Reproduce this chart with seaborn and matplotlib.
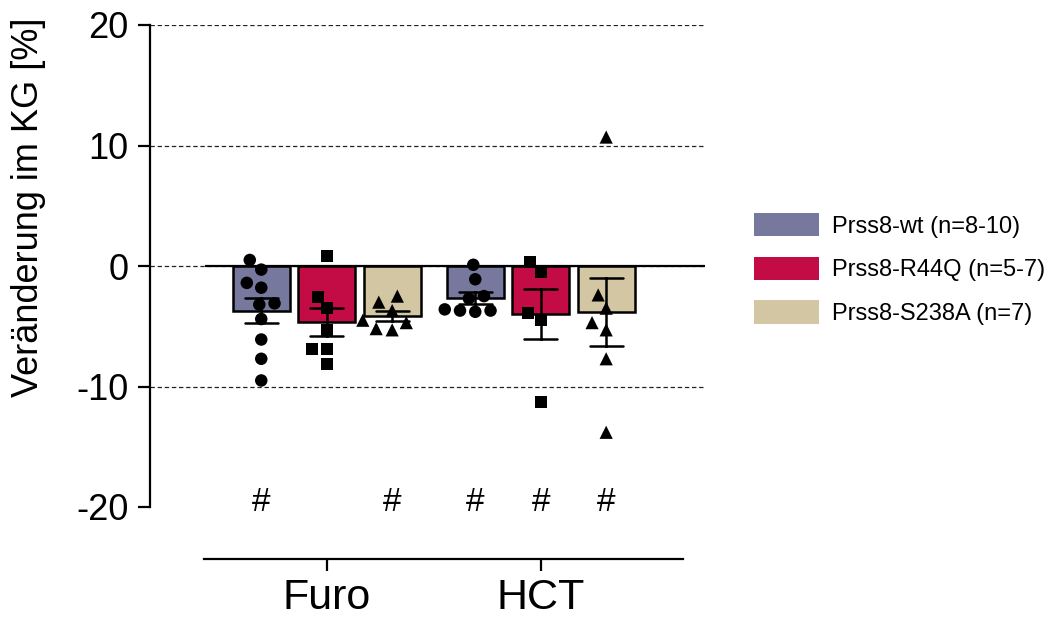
import matplotlib
matplotlib.use("Agg")
import matplotlib.pyplot as plt
from matplotlib.patches import Patch
import numpy as np
import pandas as pd
import seaborn as sns

# ---- data -------------------------------------------------------------
treatments = ["Furo", "HCT"]
genotypes = ["Prss8-wt", "Prss8-R44Q", "Prss8-S238A"]
legend_labels = ["Prss8-wt (n=8-10)", "Prss8-R44Q (n=5-7)", "Prss8-S238A (n=7)"]

# body-weight change [%] per animal
furo_wt = [0.5, -0.3, -1.4, -1.8, -3.1, -3.2, -4.4, -6.1, -7.7, -9.5]
furo_r44q = [0.8, -2.6, -3.5, -5.3, -6.9, -6.9, -8.1]
furo_s238a = [-2.5, -3.0, -3.7, -4.5, -4.7, -5.2, -5.3]
hct_wt = [0.1, -1.1, -2.5, -2.7, -3.6, -3.7, -3.7, -3.8]
hct_r44q = [0.3, -0.5, -3.9, -4.5, -11.3]
hct_s238a = [10.7, -2.4, -3.5, -4.7, -5.3, -7.7, -13.8]

# significance vs. baseline (#)
furo_sig = [True, False, True]
hct_sig = [True, True, True]

# ---- style ------------------------------------------------------------
colors = ["#76789E", "#C30C45", "#D3C6A2"]
markers = ["o", "s", "^"]
marker_sizes = [9, 8.5, 9.5]
group_step = 3.27      # distance between treatment groups, in bar units
bar_width = 0.87

sns.set_theme(style="ticks")
plt.rcParams["font.family"] = ["Liberation Sans", "DejaVu Sans"]
plt.rcParams["text.color"] = "black"
plt.rcParams["axes.labelcolor"] = "black"

values = {
    ("Furo", genotypes[0]): furo_wt,
    ("Furo", genotypes[1]): furo_r44q,
    ("Furo", genotypes[2]): furo_s238a,
    ("HCT", genotypes[0]): hct_wt,
    ("HCT", genotypes[1]): hct_r44q,
    ("HCT", genotypes[2]): hct_s238a,
}
sig = {"Furo": furo_sig, "HCT": hct_sig}

rows = []
for ti, t in enumerate(treatments):
    for gi, g in enumerate(genotypes):
        for v in values[(t, g)]:
            rows.append({"treatment": t, "genotype": g, "value": v,
                         "pos": ti * group_step + gi})
df = pd.DataFrame(rows)

fig = plt.figure(figsize=(10.57, 6.23), dpi=100)
ax = fig.add_axes([150 / 1057, 116 / 623, 555 / 1057, 482 / 623])

# dashed reference lines
for yv in [-10, 0, 10, 20]:
    ax.axhline(yv, color="#222222", linestyle=(0, (3.5, 2.2)),
               linewidth=0.9, zorder=0)

sns.barplot(data=df, x="pos", y="value", hue="genotype", hue_order=genotypes,
            palette=colors, saturation=1, native_scale=True, errorbar="se",
            width=bar_width, capsize=0.5, edgecolor="black", linewidth=1.8,
            err_kws={"color": "black", "linewidth": 1.8},
            legend=False, ax=ax, zorder=2)

# individual animals; an invisible edge widens the swarm spacing a little
for g, m, s in zip(genotypes, markers, marker_sizes):
    sub = df[df["genotype"] == g]
    sns.swarmplot(data=sub, x="pos", y="value", native_scale=True,
                  color="black", marker=m, size=s, edgecolor="none",
                  linewidth=1.5, ax=ax, zorder=4)

xmin, xmax = -1.70, 6.78
ax.hlines(0, -0.86, xmax, color="black", linewidth=1.6, zorder=3)

for ti, t in enumerate(treatments):
    for gi, flag in enumerate(sig[t]):
        if flag:
            ax.text(ti * group_step + gi, -19.6, "#", ha="center",
                    va="center", fontsize=24, color="black")

ax.set_xlim(xmin, xmax)
ax.set_ylim(-20, 20)
ax.set_yticks([-20, -10, 0, 10, 20])
ax.set_yticklabels(["-20", "-10", "0", "10", "20"])
ax.set_xticks([ti * group_step + 1 for ti in range(len(treatments))])
ax.set_xticklabels(treatments)
ax.set_xlabel("")
ax.set_ylabel("Veränderung im KG [%]", fontsize=26)
ax.yaxis.set_label_coords(-0.187, 0.622)

for side in ["top", "right"]:
    ax.spines[side].set_visible(False)
for side in ["left", "bottom"]:
    ax.spines[side].set_linewidth(1.6)
    ax.spines[side].set_color("black")
ax.spines["bottom"].set_position(("outward", 37.4))
ax.spines["bottom"].set_bounds(-0.88, 6.44)

ax.tick_params(axis="y", length=8.6, width=1.6, labelsize=26, pad=7,
               colors="black")
ax.tick_params(axis="x", length=8.6, width=1.6, labelsize=31, pad=5,
               colors="black")

handles = [Patch(facecolor=c, edgecolor="none") for c in colors]
fig.legend(handles, legend_labels, loc="center left",
           bbox_to_anchor=(754 / 1057, 1 - 269 / 623), frameon=False,
           fontsize=17, handlelength=2.75, handleheight=1.15,
           handletextpad=0.55, labelspacing=0.8, borderpad=0,
           borderaxespad=0)

fig.savefig("out.png", dpi=100)
